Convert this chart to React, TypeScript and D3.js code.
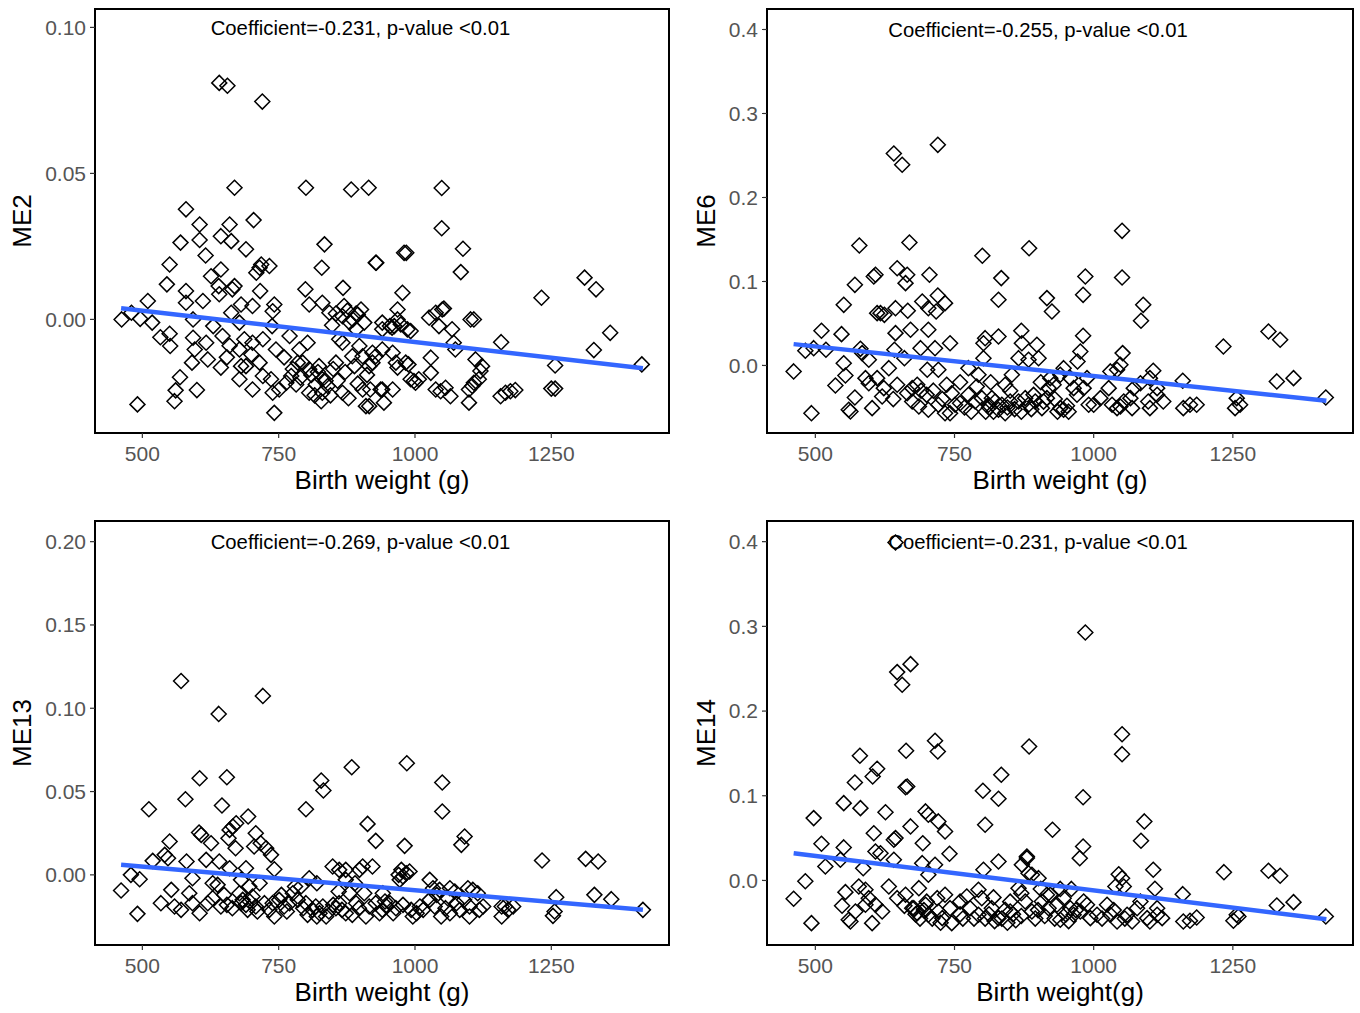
import * as d3 from 'd3'

// [birth weight (g), value]
const me2Points: [number, number][] = [
  [641, 0.081], [656, 0.08], [720, 0.0746],
  [669, 0.0451], [800, 0.0451], [883, 0.0445], [915, 0.0451], [1049, 0.045], [1049, 0.0312], [1088, 0.0242],
  [1084, 0.0162], [929, 0.0194], [980, 0.0228], [984, 0.0228], [1311, 0.0143], [1332, 0.0103], [1232, 0.0074],
  [1358, -0.0046], [1328, -0.0105], [1257, -0.0158], [1416, -0.0154], [1250, -0.0237], [1257, -0.0237],
  [1157, -0.0263], [1166, -0.0251], [1175, -0.0246], [1184, -0.0242], [1158, -0.0078], [977, 0.0091],
  [968, 0.0034], [1053, 0.0037], [1038, 0.0023], [1102, 0.0], [1108, 0.0], [1068, -0.0034], [1071, -0.008],
  [1074, -0.0103], [1111, -0.0137], [1120, -0.0177], [1029, -0.0131], [988, -0.0154], [940, -0.024],
  [943, -0.0285], [916, -0.0297], [922, -0.0114], [916, -0.016], [983, -0.0148], [992, -0.0205], [998, -0.0211],
  [1029, -0.0183], [1038, -0.024], [1047, -0.0246], [1056, -0.0234], [1065, -0.0263], [1099, -0.024],
  [1105, -0.0228], [1099, -0.0285], [1117, -0.0205], [954, -0.0023], [958, -0.0028],
  [462, 0.0], [480, 0.0023], [496, 0.0002], [510, 0.0063], [518, -0.0011], [533, -0.0061], [550, -0.0049],
  [551, -0.0091], [491, -0.0291], [569, -0.0198], [561, -0.0243], [559, -0.028], [600, -0.0242], [545, 0.012],
  [550, 0.0188], [580, 0.0377], [570, 0.0263], [605, 0.0325], [605, 0.0272], [616, 0.0219], [580, 0.0097],
  [580, 0.0057], [611, 0.0063], [593, 0.0], [593, -0.0063], [596, -0.0103], [617, -0.008], [620, -0.0137],
  [591, -0.0148], [630, -0.0023], [641, 0.0086], [644, 0.0171], [644, 0.0285], [660, 0.0325], [663, 0.0268],
  [626, 0.0148], [640, 0.0114], [665, 0.0103], [669, 0.0114], [663, 0.0023], [647, -0.0057], [644, -0.0165],
  [690, 0.024], [704, 0.034], [715, 0.0177], [718, 0.0188], [709, 0.016], [733, 0.0183], [716, 0.0097],
  [681, 0.0051], [702, 0.0046], [742, 0.0051], [739, 0.0028], [678, -0.0011], [687, -0.0068], [678, -0.0103],
  [681, -0.016], [678, -0.0205], [702, -0.008], [721, -0.0068], [715, -0.0148], [721, -0.0194], [736, -0.0205],
  [702, -0.024], [738, -0.0023], [745, -0.0103], [739, -0.0251], [742, -0.032], [751, -0.024], [764, -0.0217],
  [773, -0.0194], [782, -0.0223], [770, -0.0057], [788, -0.0103], [785, -0.0148], [803, -0.008], [799, 0.0103],
  [806, 0.0051], [830, 0.0057], [834, 0.0257], [829, 0.0177], [868, 0.0108], [870, 0.0046], [843, 0.0023],
  [901, 0.0034], [907, -0.0011], [895, 0.0017], [928, 0.0194], [794, -0.0148], [806, -0.0171], [824, -0.016],
  [830, -0.0205], [818, -0.0223], [840, -0.0228], [855, -0.0148], [867, -0.008], [806, -0.0251], [830, -0.0251],
  [867, -0.0251], [910, -0.0297], [904, -0.024], [885, -0.0126], [904, -0.0126], [922, -0.0148], [937, -0.024],
  [940, -0.0103], [940, -0.0034], [861, -0.0068], [867, 0.0011], [892, -0.0034], [898, -0.0091],
  [940, -0.0011], [962, -0.0023], [968, 0.0], [974, -0.0017], [986, -0.0034], [992, -0.004], [1026, 0.0006],
  [1044, -0.0023], [1050, 0.0034], [928, -0.0126], [959, -0.0114], [965, -0.0148], [968, -0.0165], [959, -0.024],
  [1001, -0.0217], [1007, -0.0205], [1108, -0.0217], [1123, -0.016],
  [810, -0.019], [816, -0.026], [822, -0.018], [828, -0.028], [836, -0.021], [845, -0.026], [850, -0.017],
  [858, -0.021], [872, -0.018], [878, -0.027], [889, -0.016], [895, -0.022], [912, -0.019], [918, -0.024],
  [760, -0.013], [776, -0.017], [790, -0.02], [848, -0.002], [855, 0.002], [876, 0.003], [880, -0.001],
  [886, 0.0], [892, 0.002], [700, -0.012], [690, -0.016], [660, -0.009], [655, -0.013],
]

const me6Points: [number, number][] = [
  [641, 0.2524], [656, 0.239], [720, 0.2627], [579, 0.1429], [669, 0.1464], [800, 0.1306], [884, 0.1396],
  [834, 0.104], [829, 0.0782], [916, 0.0802], [925, 0.0643], [571, 0.096], [551, 0.0722], [605, 0.106],
  [608, 0.108], [647, 0.1158], [665, 0.108], [662, 0.098], [705, 0.108], [611, 0.0623], [617, 0.0623],
  [624, 0.0603], [644, 0.0682], [666, 0.0651], [692, 0.0762], [703, 0.0682], [720, 0.0833], [733, 0.0742],
  [717, 0.0643], [511, 0.0413], [547, 0.0373], [497, 0.0206], [482, 0.0175], [519, 0.0187], [461, -0.0071],
  [493, -0.0568], [551, 0.0027], [554, -0.0119], [536, -0.0238], [571, -0.0381], [563, -0.0548], [560, -0.0527],
  [602, -0.0508], [581, 0.0198], [584, 0.0147], [596, 0.0068], [590, -0.0151], [596, -0.0211], [611, -0.0151],
  [623, -0.027], [620, -0.0369], [644, 0.0385], [671, 0.0425], [703, 0.0425], [642, 0.0187], [660, 0.0087],
  [689, 0.0206], [715, 0.0206], [742, 0.0265], [632, -0.0032], [647, -0.023], [674, -0.027], [683, -0.023],
  [701, -0.0051], [721, -0.0051], [736, -0.023], [745, -0.033], [674, -0.0429], [686, -0.0488], [703, -0.0527],
  [721, -0.0468], [733, -0.0568], [742, -0.0568], [751, -0.0468], [775, -0.0032], [793, -0.011], [802, 0.0087],
  [805, 0.0325], [829, 0.0345], [802, 0.0265], [775, -0.0349], [787, -0.0429], [799, -0.0389], [811, -0.0468],
  [823, -0.0429], [835, -0.0468], [841, -0.0568], [829, -0.0527], [817, -0.0389], [841, -0.023], [853, -0.011],
  [865, 0.0087], [870, 0.0413], [871, 0.0265], [883, 0.0068], [898, 0.0246], [901, 0.0087], [865, -0.0429],
  [877, -0.0389], [883, -0.0468], [895, -0.0429], [907, -0.0508], [916, -0.0389], [919, -0.027],
  [1051, 0.1603], [985, 0.106], [981, 0.0841], [1051, 0.1048], [1089, 0.0722], [1085, 0.0532], [981, 0.0353],
  [976, 0.0167], [971, 0.0048], [1052, 0.0147], [1048, 0.0008], [1042, -0.0051], [1030, -0.0071],
  [1107, -0.0063], [1101, -0.0151], [1114, -0.027], [1160, -0.0182], [1233, 0.0226], [1314, 0.0405],
  [1335, 0.0306], [1329, -0.019], [1359, -0.0151], [1417, -0.0381],
  [922, -0.0151], [928, -0.023], [940, -0.011], [946, -0.0032], [958, -0.0151], [964, -0.027], [970, -0.0349],
  [982, -0.027], [988, -0.0151], [940, -0.0508], [946, -0.0527], [991, -0.0468], [1000, -0.0468],
  [1012, -0.0389], [1027, -0.027], [1033, -0.0468], [1042, -0.0508], [1048, -0.0488], [1054, -0.0429],
  [1066, -0.0389], [1069, -0.0508], [1072, -0.027], [1084, -0.0211], [1098, -0.0429], [1101, -0.0508],
  [1114, -0.0349], [1125, -0.0429], [1161, -0.0508], [1173, -0.0468], [1185, -0.0468], [1257, -0.0389],
  [1254, -0.0508], [1263, -0.0468],
  [760, -0.045], [768, -0.05], [780, -0.055], [806, -0.055], [812, -0.05], [820, -0.055], [845, -0.05],
  [850, -0.043], [858, -0.052], [870, -0.055], [888, -0.052], [892, -0.035], [910, -0.043], [930, -0.04],
  [935, -0.055], [952, -0.048], [955, -0.055], [700, -0.035], [712, -0.03], [728, -0.04], [760, -0.02],
  [790, -0.025], [815, -0.02], [850, -0.03], [905, -0.02], [690, -0.03], [665, -0.033], [640, -0.04],
]

const me13Points: [number, number][] = [
  [571, 0.1164], [721, 0.1074], [640, 0.0966], [884, 0.0646], [605, 0.058], [655, 0.0586], [828, 0.0566],
  [832, 0.0506], [579, 0.0454], [646, 0.0416], [512, 0.0394], [800, 0.0394], [694, 0.035], [913, 0.0306],
  [928, 0.0204], [604, 0.0254], [608, 0.024], [626, 0.019], [550, 0.02], [541, 0.012], [547, 0.01], [660, 0.027],
  [666, 0.029], [672, 0.031], [658, 0.022], [671, 0.016], [708, 0.025], [705, 0.017], [717, 0.019], [727, 0.016],
  [736, 0.012], [742, 0.0034], [519, 0.0084], [479, 0.0], [495, -0.0026], [461, -0.0094], [491, -0.0234],
  [581, 0.008], [592, -0.002], [617, 0.009], [641, 0.008], [638, -0.006], [629, -0.005], [660, 0.004],
  [690, 0.004], [681, -0.003], [696, -0.007], [715, -0.005], [553, -0.009], [534, -0.017], [559, -0.019],
  [571, -0.021], [586, -0.011], [592, -0.017], [605, -0.023], [620, -0.017], [629, -0.014], [644, -0.019],
  [678, -0.011], [684, -0.015], [681, -0.017], [702, -0.013], [708, -0.019], [724, -0.017], [733, -0.021],
  [742, -0.025], [739, -0.017], [751, -0.015], [776, -0.011], [791, -0.007], [806, -0.002], [800, -0.017],
  [812, -0.021], [825, -0.023], [837, -0.025], [831, -0.019], [849, 0.005], [861, 0.003], [873, 0.003],
  [873, -0.003], [880, -0.011], [892, -0.017], [904, 0.005], [907, -0.011], [922, 0.005], [916, -0.019],
  [928, -0.017], [935, -0.023], [910, -0.025], [861, -0.017], [873, -0.023],
  [985, 0.067], [1050, 0.0554], [1050, 0.038], [1091, 0.023], [1085, 0.018], [981, 0.0174], [1233, 0.0086],
  [1313, 0.0096], [1336, 0.008], [1329, -0.012], [1360, -0.0146], [1259, -0.0134], [1256, -0.022],
  [1253, -0.0246], [1418, -0.021], [1159, -0.019], [1165, -0.019], [1171, -0.021], [1180, -0.019],
  [1159, -0.025], [972, -0.003], [978, -0.001], [984, 0.001], [990, 0.002], [1027, -0.003], [1033, -0.008],
  [1045, -0.009], [1064, -0.008], [1073, -0.01], [1097, -0.008], [1106, -0.009], [1115, -0.011], [941, -0.011],
  [954, -0.017], [960, -0.023], [948, -0.019], [993, -0.021], [996, -0.025], [1009, -0.019], [1027, -0.015],
  [1036, -0.019], [1048, -0.025], [1064, -0.023], [1076, -0.017], [1100, -0.019], [1100, -0.025],
  [1118, -0.021], [1125, -0.019],
  [690, -0.018], [693, -0.021], [697, -0.016], [760, -0.019], [765, -0.022], [770, -0.017], [795, -0.02],
  [803, -0.024], [818, -0.019], [820, -0.025], [842, -0.022], [850, -0.018], [855, -0.02], [866, -0.021],
  [885, -0.024], [897, -0.02], [940, -0.021], [945, -0.016], [965, -0.02], [978, -0.018], [1003, -0.023],
  [1015, -0.021], [1056, -0.02], [1082, -0.021], [1090, -0.015], [650, -0.012], [655, -0.018], [665, -0.02],
  [711, -0.022], [755, -0.012], [785, -0.015], [860, -0.01], [890, -0.005], [898, 0.003], [970, 0.0],
  [975, 0.003], [1040, -0.012], [1060, -0.014], [780, -0.007], [820, -0.005],
]

const me14Points: [number, number][] = [
  [644, 0.399], [985, 0.2928], [647, 0.246], [671, 0.2554], [656, 0.231], [580, 0.1472], [611, 0.1319],
  [603, 0.1228], [571, 0.1157], [663, 0.1531], [715, 0.1649], [720, 0.1523], [665, 0.111], [662, 0.11],
  [551, 0.0913], [581, 0.0854], [497, 0.0736], [626, 0.0806], [605, 0.0558], [644, 0.05], [641, 0.048],
  [671, 0.0638], [698, 0.0815], [703, 0.0776], [721, 0.0697], [733, 0.0579], [693, 0.044], [741, 0.0315],
  [511, 0.0433], [551, 0.039], [545, 0.0244], [518, 0.0165], [482, -0.001], [461, -0.0216], [493, -0.0504],
  [548, -0.0299], [554, -0.0138], [572, -0.0366], [560, -0.0464], [563, -0.0484], [602, -0.0504], [586, 0.0145],
  [608, 0.0342], [617, 0.0322], [641, 0.0244], [632, -0.0071], [647, -0.0209], [662, -0.0169], [677, -0.0327],
  [686, -0.0091], [692, 0.0204], [703, 0.0067], [715, 0.0185], [719, -0.0209], [733, -0.0169], [742, -0.0327],
  [745, -0.0504], [728, -0.0445], [578, -0.0071], [590, -0.011], [596, -0.0209], [608, -0.0287], [620, -0.0366],
  [590, -0.0287], [674, -0.0327], [683, -0.0386], [698, -0.0287], [703, -0.0405], [721, -0.0366],
  [772, -0.0189], [793, -0.011], [799, -0.0209], [802, 0.0126], [829, 0.0224], [778, -0.0327], [793, -0.0405],
  [817, -0.0327], [829, -0.0445], [841, -0.0346], [850, -0.0366], [865, -0.0091], [871, 0.0185], [880, 0.0264],
  [889, 0.0067], [901, 0.0027], [877, -0.0248], [889, -0.0366], [907, -0.0248], [916, -0.0169], [919, -0.0327],
  [801, 0.1059], [829, 0.0965], [834, 0.1248], [805, 0.0658], [884, 0.1582], [926, 0.0599], [880, 0.0283],
  [883, 0.0086],
  [1051, 0.1727], [1051, 0.1491], [981, 0.0983], [1091, 0.0697], [1085, 0.0469], [981, 0.0401], [975, 0.0263],
  [1107, 0.0126], [1110, -0.0098], [1045, 0.0074], [1051, 0.0027], [1039, -0.0071], [1054, -0.0071],
  [1160, -0.0162], [1234, 0.0098], [1314, 0.0114], [1335, 0.0055], [1329, -0.0295], [1359, -0.0256],
  [1417, -0.0425], [1257, -0.0405], [1251, -0.0476], [1260, -0.0425], [1161, -0.0484], [1173, -0.0476],
  [1185, -0.0437], [922, -0.0169], [934, -0.0287], [946, -0.0209], [940, -0.0464], [958, -0.0327],
  [964, -0.0405], [976, -0.0366], [982, -0.0248], [988, -0.0287], [994, -0.0445], [1006, -0.0405],
  [1024, -0.0287], [1030, -0.0405], [1042, -0.0484], [1060, -0.0405], [1069, -0.0484], [1078, -0.0327],
  [1084, -0.0248], [1096, -0.0445], [1101, -0.0484], [1114, -0.0405], [1123, -0.0445], [1114, -0.0327],
  [680, -0.04], [688, -0.045], [695, -0.035], [710, -0.045], [725, -0.05], [760, -0.04], [765, -0.045],
  [785, -0.045], [805, -0.045], [812, -0.04], [822, -0.048], [835, -0.045], [845, -0.05], [855, -0.04],
  [860, -0.047], [870, -0.042], [895, -0.045], [900, -0.035], [912, -0.042], [930, -0.045], [950, -0.04],
  [955, -0.048], [968, -0.035], [1015, -0.045], [1036, -0.035], [1056, -0.045], [660, -0.03], [700, -0.025],
  [760, -0.025], [820, -0.02], [850, -0.025], [870, -0.015], [905, -0.01], [940, -0.01], [960, -0.01],
]

// fitted value at the lightest and heaviest birth weight
const me2Fit = [0.0038, -0.0167]
const me6Fit = [0.0254, -0.042]
const me13Fit = [0.006, -0.021]
const me14Fit = [0.0321, -0.0458]

const coefficients = ['-0.231', '-0.255', '-0.269', '-0.231']
const xTicks = [500, 750, 1000, 1250]
const annotX = 900

const FONT = '"Liberation Sans", Arial, Helvetica, sans-serif'

const panels = [
  {
    name: 'ME2', points: me2Points, fit: me2Fit, coef: coefficients[0], xTitle: 'Birth weight (g)',
    box: [95, 669, 9, 433], yDomain: [-0.0389, 0.1063], yTicks: [0, 0.05, 0.1], fmt: '.2f', annotY: 0.1, titleX: 22,
  },
  {
    name: 'ME6', points: me6Points, fit: me6Fit, coef: coefficients[1], xTitle: 'Birth weight (g)',
    box: [767, 1353, 9, 433], yDomain: [-0.0804, 0.4244], yTicks: [0, 0.1, 0.2, 0.3, 0.4], fmt: '.1f', annotY: 0.4, titleX: 706,
  },
  {
    name: 'ME13', points: me13Points, fit: me13Fit, coef: coefficients[2], xTitle: 'Birth weight (g)',
    box: [95, 669, 521, 945], yDomain: [-0.0421, 0.2124], yTicks: [0, 0.05, 0.1, 0.15, 0.2], fmt: '.2f', annotY: 0.2, titleX: 22,
  },
  {
    name: 'ME14', points: me14Points, fit: me14Fit, coef: coefficients[3], xTitle: 'Birth weight(g)',
    box: [767, 1353, 521, 945], yDomain: [-0.0762, 0.4244], yTicks: [0, 0.1, 0.2, 0.3, 0.4], fmt: '.1f', annotY: 0.4, titleX: 706,
  },
]

const allX = panels.flatMap((p) => p.points.map((d) => d[0]))
const [xMin, xMax] = d3.extent(allX) as [number, number]
const pad = (xMax - xMin) * 0.05
const xDomain = [xMin - pad, xMax + pad]

const diamond = 'M0,-7.5L7.5,0L0,7.5L-7.5,0Z'

function Panel({ p }: { p: (typeof panels)[number] }) {
  const [x0, x1, y0, y1] = p.box
  const x = d3.scaleLinear().domain(xDomain).range([x0, x1])
  const y = d3.scaleLinear().domain(p.yDomain).range([y1, y0])
  const fmt = d3.format(p.fmt)
  const line = d3
    .line<[number, number]>()
    .x((d) => x(d[0]))
    .y((d) => y(d[1]))
  const fitData: [number, number][] = [
    [xMin, p.fit[0]],
    [xMax, p.fit[1]],
  ]

  return (
    <g>
      <g clipPath={`url(#clip-${p.name})`}>
        {p.points.map((d, i) => (
          <path
            key={i}
            d={diamond}
            transform={`translate(${x(d[0])},${y(d[1])})`}
            fill="none"
            stroke="#000"
            strokeWidth={1.5}
          />
        ))}
        <path d={line(fitData) || ''} fill="none" stroke="#3366FF" strokeWidth={4.5} />
      </g>
      <text
        x={x(annotX)}
        y={y(p.annotY)}
        dy="0.35em"
        textAnchor="middle"
        fontSize={20.3}
        fill="#000"
      >
        {`Coefficient=${p.coef}, p-value <0.01`}
      </text>
      <rect x={x0} y={y0} width={x1 - x0} height={y1 - y0} fill="none" stroke="#000" strokeWidth={2} />
      {p.yTicks.map((t) => (
        <g key={t}>
          <line x1={x0 - 5} x2={x0} y1={y(t)} y2={y(t)} stroke="#333" strokeWidth={1.2} />
          <text x={x0 - 9} y={y(t)} dy="0.35em" textAnchor="end" fontSize={21} fill="#555">
            {fmt(t)}
          </text>
        </g>
      ))}
      {xTicks.map((t) => (
        <g key={t}>
          <line x1={x(t)} x2={x(t)} y1={y1} y2={y1 + 5} stroke="#333" strokeWidth={1.2} />
          <text x={x(t)} y={y1 + 28} textAnchor="middle" fontSize={21} fill="#555">
            {t}
          </text>
        </g>
      ))}
      <text x={(x0 + x1) / 2} y={y1 + 56} textAnchor="middle" fontSize={26} fill="#000">
        {p.xTitle}
      </text>
      <text
        transform={`translate(${p.titleX},${(y0 + y1) / 2}) rotate(-90)`}
        dy="0.35em"
        textAnchor="middle"
        fontSize={26}
        fill="#000"
      >
        {p.name}
      </text>
    </g>
  )
}

export default function App() {
  return (
    <svg
      width={1360}
      height={1013}
      style={{ position: 'absolute', left: 0, top: 0, background: '#fff' }}
      fontFamily={FONT}
    >
      <defs>
        {panels.map((p) => (
          <clipPath key={p.name} id={`clip-${p.name}`}>
            <rect x={p.box[0]} y={p.box[2]} width={p.box[1] - p.box[0]} height={p.box[3] - p.box[2]} />
          </clipPath>
        ))}
      </defs>
      <rect width={1360} height={1013} fill="#fff" />
      {panels.map((p) => (
        <Panel key={p.name} p={p} />
      ))}
    </svg>
  )
}
